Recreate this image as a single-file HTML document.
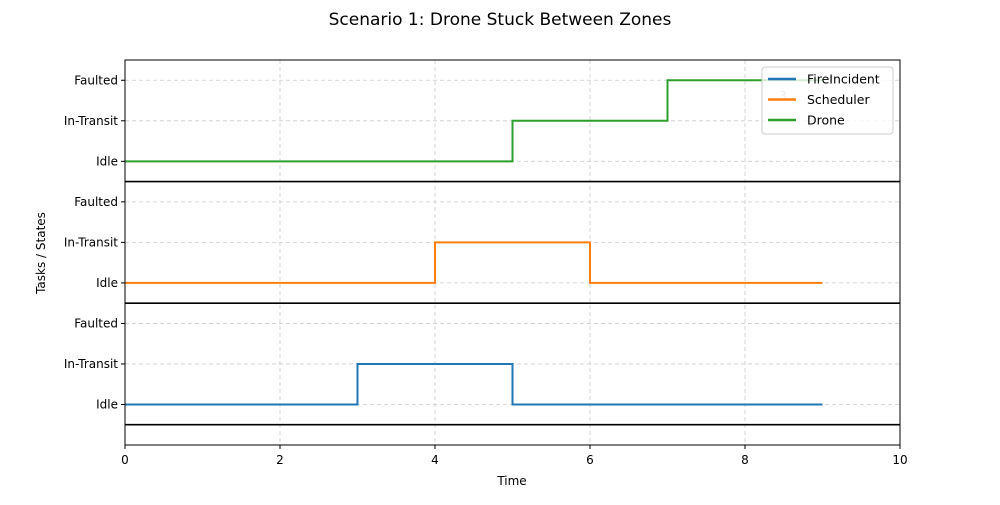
<!DOCTYPE html>
<html><head><meta charset="utf-8"><style>
body{margin:0;background:#fff;font-family:"Liberation Sans","DejaVu Sans",sans-serif}
svg text{font-family:"DejaVu Sans","Liberation Sans",sans-serif}
</style></head><body>
<svg id="c" width="1000" height="500" xmlns="http://www.w3.org/2000/svg">
<text x="500" y="25" text-anchor="middle" font-size="17">Scenario 1: Drone Stuck Between Zones</text>
<g id="grid"></g><g id="lines"></g><g id="axes"></g>
</svg>
<script>
const stateLabels=["Idle","In-Transit","Faulted"];
const seriesNames=["FireIncident","Scheduler","Drone"];
const seriesColors=["#1f77b4","#ff7f0e","#2ca02c"];
const fireTimes=[0,3,5,9];const fireStates=[0,1,0,0];
const schedTimes=[0,4,6,9];const schedStates=[0,1,0,0];
const droneTimes=[0,5,7,9];const droneStates=[0,1,2,2];
const xTicks=[0,2,4,6,8,10];
const NS="http://www.w3.org/2000/svg";
const L=125,R=900,T=60,B=445;
const X=v=>L+(v-0)/(10-0)*(R-L);
const Y=v=>B-(v-(-1))/(8.5-(-1))*(B-T);
function mk(p,tag,a){const e=document.createElementNS(NS,tag);for(const k in a)e.setAttribute(k,a[k]);p.appendChild(e);return e;}
const grid=document.getElementById('grid'),lines=document.getElementById('lines'),axes=document.getElementById('axes');
xTicks.forEach(t=>{const l=mk(grid,'line',{x1:X(t),x2:X(t),y1:T,y2:B,stroke:'#ccc','stroke-dasharray':'4,3','stroke-width':0.8});

const tk=mk(axes,'line',{x1:X(t),x2:X(t),y1:B,y2:B+4,stroke:'#000'});
const tx=mk(axes,'text',{x:X(t),y:B+19,'text-anchor':'middle','font-size':12});tx.textContent=t;});
for(let p=0;p<3;p++){stateLabels.forEach((s,i)=>{const v=p*3+i;
const g=mk(grid,'line',{x1:L,x2:R,y1:Y(v),y2:Y(v),stroke:'#ccc','stroke-dasharray':'4,3','stroke-width':0.8});
const tk=mk(axes,'line',{x1:L-4,x2:L,y1:Y(v),y2:Y(v),stroke:'#000'});
const tx=mk(axes,'text',{x:L-7,y:Y(v)+4,'text-anchor':'end','font-size':12});tx.textContent=s;});
const sep=mk(lines,'line',{x1:L,x2:R,y1:Y(p*3-0.5),y2:Y(p*3-0.5),stroke:'#000','stroke-width':1.6});}
const all=[[fireTimes,fireStates],[schedTimes,schedStates],[droneTimes,droneStates]];
all.forEach(([ts,ss],k)=>{let d='';ts.forEach((t,i)=>{const y=Y(ss[i]+k*3);
if(i==0)d+=`M${X(t)},${y}`;else{d+=`H${X(t)}V${y}`;}});
const p=mk(lines,'path',{d:d,fill:'none',stroke:seriesColors[k],'stroke-width':2});});
const ann=mk(lines,'text',{x:783,y:100,'text-anchor':'middle','font-size':12,fill:'#999'});ann.textContent='3';
const fr=mk(axes,'rect',{x:L,y:T,width:R-L,height:B-T,fill:'none',stroke:'#000','stroke-width':1});
const xl=mk(axes,'text',{x:512,y:485,'text-anchor':'middle','font-size':12});xl.textContent='Time';
const yl=mk(axes,'text',{x:45,y:253,'text-anchor':'middle','font-size':12,transform:'rotate(-90 45 253)'});yl.textContent='Tasks / States';
const lg=mk(axes,'g',{});
mk(lg,'rect',{x:762,y:67,width:131,height:67,rx:3,fill:'#fff','fill-opacity':0.8,stroke:'#ccc'});
seriesNames.forEach((n,i)=>{const y=79+i*20.5;
const e=mk(lg,'g',{});
mk(e,'line',{x1:768,x2:796,y1:y,y2:y,stroke:seriesColors[i],'stroke-width':2.5});
const t=mk(e,'text',{x:807,y:y+4.5,'font-size':12.5});t.textContent=n;});
</script>
</body></html>
